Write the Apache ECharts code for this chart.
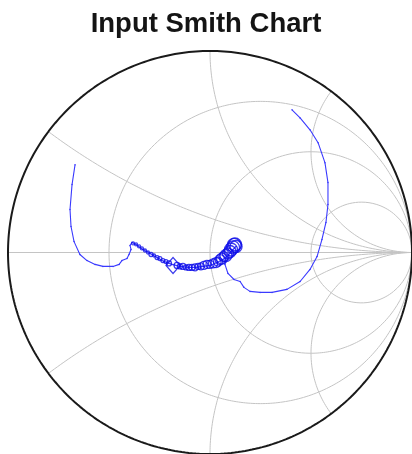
<!DOCTYPE html>
<html>
<head>
<meta charset="utf-8">
<script src="https://cdn.jsdelivr.net/npm/echarts@6/dist/echarts.min.js"></script>
<style>
html,body{margin:0;padding:0;background:#fff;}
#chart{width:412px;height:454px;}
</style>
</head>
<body>
<div id="chart"></div>
<script>
// Smith chart grid values
var resistanceValues = [1/3, 1, 3];
var reactanceValues = [1/3, 1, 2, -1/3, -1, -2];

// Reflection coefficient trace (real, imaginary)
var traceRe = [-0.668,-0.683,-0.693,-0.688,-0.673,-0.644,-0.609,-0.569,-0.530,-0.480,-0.450,-0.436,-0.411,-0.401,-0.391,-0.396,-0.386,
  -0.366,-0.332,-0.297,-0.262,-0.228,-0.188,-0.149,-0.109,-0.069,-0.035,0.000,0.035,0.064,0.089,0.109,0.129,
  0.079,0.074,0.089,0.119,0.149,0.168,0.198,0.248,0.307,0.381,0.446,0.495,0.530,0.554,0.574,0.584,0.584,0.569,0.535,0.495,0.446,0.406];
var traceIm = [0.436,0.337,0.213,0.129,0.054,-0.010,-0.040,-0.059,-0.069,-0.069,-0.059,-0.040,-0.030,-0.010,0.015,0.035,0.050,
  0.040,0.015,-0.005,-0.025,-0.045,-0.059,-0.069,-0.074,-0.074,-0.069,-0.064,-0.050,-0.035,-0.015,0.010,0.030,
  -0.025,-0.059,-0.104,-0.134,-0.144,-0.173,-0.193,-0.198,-0.198,-0.183,-0.144,-0.084,-0.020,0.064,0.149,0.238,0.347,0.446,0.545,0.609,0.668,0.708];

// Open-circle markers along the trace
var markerRe = [-0.381,-0.366,-0.351,-0.337,-0.322,-0.307,-0.292,-0.277,-0.262,-0.248,-0.233,-0.218,-0.203,
  -0.163,-0.149,-0.134,-0.119,-0.104,-0.089,-0.074,-0.059,-0.045,-0.030,-0.015,0.000,0.015,0.030,0.040,0.050,
  0.059,0.069,0.079,0.089,0.099,0.104,0.114,0.119,0.124,0.129];
var markerIm = [0.045,0.040,0.030,0.020,0.010,0.000,-0.010,-0.015,-0.025,-0.030,-0.040,-0.045,-0.054,
  -0.064,-0.069,-0.069,-0.074,-0.074,-0.074,-0.074,-0.069,-0.069,-0.064,-0.059,-0.059,-0.054,-0.050,-0.045,-0.035,
  -0.030,-0.020,-0.015,-0.005,0.005,0.015,0.025,0.035,0.040,0.030];
var markerSize = [3,3,3,3,3,3,4,3,4,4,4,4,5,
  6,5,6,5,6,6,7,6,7,8,8,8,9,10,9,10,
  11,10,12,11,12,13,13,14,13,12];

// Diamond marker
var diamondRe = [-0.183];
var diamondIm = [-0.064];

function gamma(r, x) {
  var dr = (r + 1) * (r + 1) + x * x;
  return [((r * r - 1) + x * x) / dr, (2 * x) / dr];
}
function resistanceCircle(r) {
  var pts = [];
  for (var i = 0; i <= 400; i++) {
    var phi = -Math.PI / 2 + 1e-4 + (Math.PI - 2e-4) * i / 400;
    pts.push(gamma(r, Math.tan(phi)));
  }
  pts.push([1, 0]);
  pts.unshift([1, 0]);
  return pts;
}
function reactanceArc(x) {
  var pts = [];
  for (var i = 0; i <= 300; i++) {
    var th = (Math.PI / 2 - 1e-4) * i / 300;
    pts.push(gamma(Math.tan(th), x));
  }
  pts.push([1, 0]);
  return pts;
}

var series = [];
var gridStyle = {color: '#c4c4c4', width: 1};
resistanceValues.forEach(function (r) {
  series.push({type: 'line', data: resistanceCircle(r), showSymbol: false, silent: true, lineStyle: gridStyle, z: 1});
});
reactanceValues.forEach(function (x) {
  series.push({type: 'line', data: reactanceArc(x), showSymbol: false, silent: true, lineStyle: gridStyle, z: 1});
});
series.push({type: 'line', data: [[-1, 0], [1, 0]], showSymbol: false, silent: true, lineStyle: gridStyle, z: 1});
// outer circle
var outer = [];
for (var i = 0; i <= 720; i++) {
  var a = 2 * Math.PI * i / 720;
  outer.push([Math.cos(a), Math.sin(a)]);
}
series.push({type: 'line', data: outer, showSymbol: false, silent: true, lineStyle: {color: '#1a1a1a', width: 2}, z: 3});

series.push({
  type: 'line', data: traceRe.map(function (v, i) { return [v, traceIm[i]]; }),
  showSymbol: true, symbol: 'circle', symbolSize: 1.5, itemStyle: {color: '#3b3bff'},
  lineStyle: {color: '#3a3aff', width: 1.1}, z: 5
});
series.push({
  type: 'scatter', data: markerRe.map(function (v, i) { return [v, markerIm[i], markerSize[i]]; }),
  symbol: 'circle', symbolSize: function (d) { return d[2]; },
  itemStyle: {color: 'rgba(0,0,0,0)', borderColor: '#0c0ce8', borderWidth: 1.3}, z: 6
});
series.push({
  type: 'scatter', data: diamondRe.map(function (v, i) { return [v, diamondIm[i]]; }),
  symbol: 'diamond', symbolSize: [14, 16],
  itemStyle: {color: 'rgba(0,0,0,0)', borderColor: '#0c0ce8', borderWidth: 1.3}, z: 6
});

var chart = echarts.init(document.getElementById('chart'));
chart.setOption({
  animation: false,
  backgroundColor: '#ffffff',
  title: {
    text: 'Input Smith Chart', left: 'center', top: 5,
    textStyle: {fontFamily: 'Liberation Sans', fontWeight: 'bold', fontSize: 27.5, color: '#141414'}
  },
  grid: {left: 8, top: 51, width: 404, height: 404},
  xAxis: {type: 'value', min: -1, max: 1, show: false},
  yAxis: {type: 'value', min: -1, max: 1, show: false},
  series: series
});
</script>
</body>
</html>
